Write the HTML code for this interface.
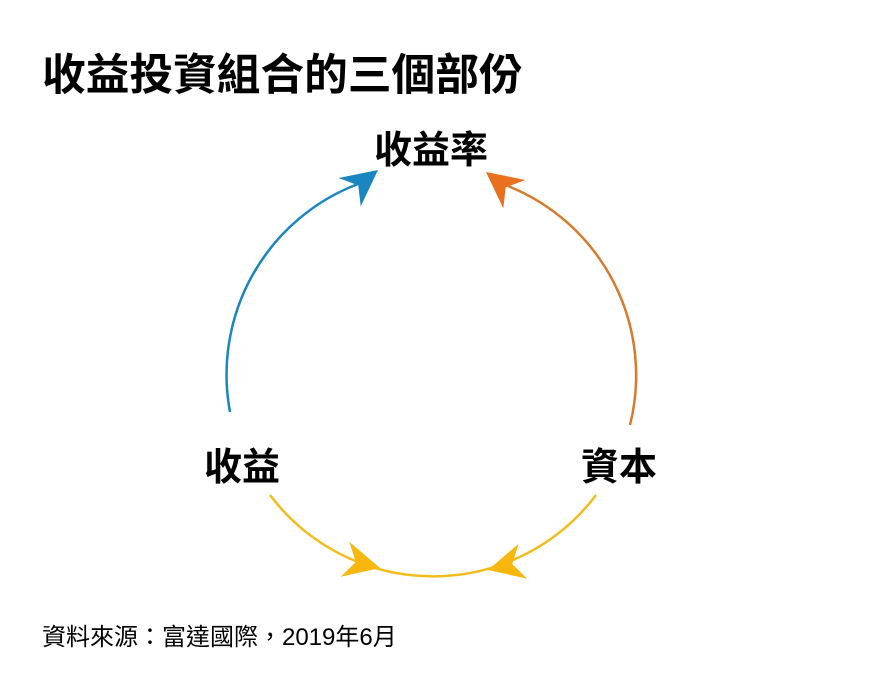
<!DOCTYPE html>
<html><head><meta charset="utf-8"><style>
body{margin:0;width:891px;height:686px;background:#fff;overflow:hidden;position:relative;font-family:"Liberation Sans","Noto Sans CJK TC",sans-serif;}
.t{position:absolute;font-weight:bold;color:#000;white-space:nowrap;line-height:1;}
</style></head><body>
<div class="t" style="left:42px;top:54px;font-size:43.7px;">收益投資組合的三個部份</div>
<div class="t" style="left:374px;top:132px;font-size:38px;">收益率</div>
<div class="t" style="left:204px;top:449px;font-size:38px;">收益</div>
<div class="t" style="left:581px;top:449px;font-size:38px;">資本</div>
<div class="t" style="left:42px;top:626px;font-size:24px;font-weight:normal;">資料來源：富達國際，2019年6月</div>
<svg width="891" height="686" style="position:absolute;left:0;top:0">
<path d="M230,412 A204,204 0 0 1 358,184" fill="none" stroke="#1a86c0" stroke-width="2.5"/>
<path d="M630,425 A204,204 0 0 0 508,186" fill="none" stroke="#d87a2c" stroke-width="2.5"/>
<path d="M270,495 A204,204 0 0 0 596,495" fill="none" stroke="#f2bd1c" stroke-width="2.5"/>
<g fill="#1a86c0" transform="translate(378,170) rotate(-38)"><path d="M0,0 L-36,-18 L-25,0 L-36,18 Z"/></g>
<g fill="#e8701e" transform="translate(486,172) rotate(218)"><path d="M0,0 L-36,-18 L-25,0 L-36,18 Z"/></g>
<g fill="#f7b70f" transform="translate(380,568) rotate(14)"><path d="M0,0 L-36,-18 L-25,0 L-36,18 Z"/></g>
<g fill="#f7b70f" transform="translate(488,570) rotate(166)"><path d="M0,0 L-36,-18 L-25,0 L-36,18 Z"/></g>
</svg>
</body></html>
